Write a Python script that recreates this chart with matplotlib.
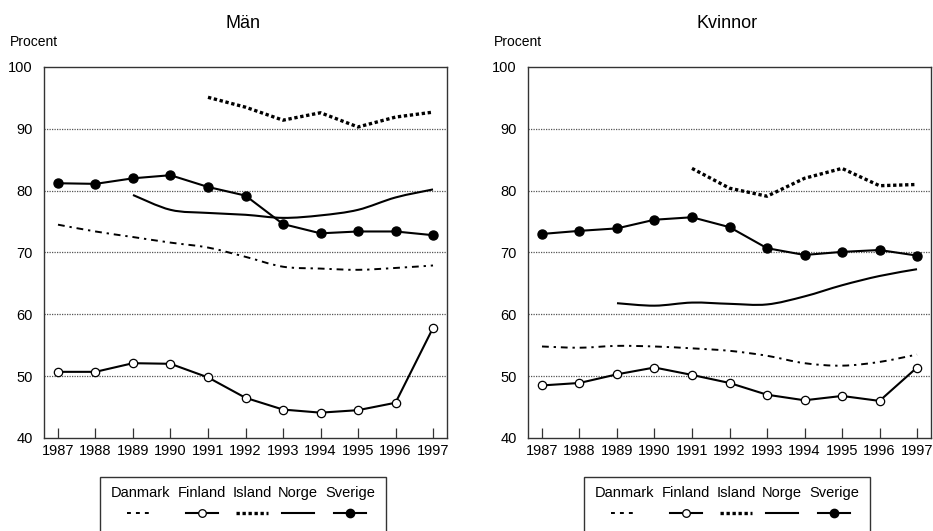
import matplotlib
matplotlib.use("Agg")
import matplotlib.pyplot as plt
from matplotlib.path import Path
from matplotlib.patches import PathPatch, Rectangle
from matplotlib.lines import Line2D
import numpy as np

plt.rcParams['font.family'] = ['Liberation Sans', 'DejaVu Sans']

years = list(range(1987, 1998))
countries = ["Danmark", "Finland", "Island", "Norge", "Sverige"]

# Män
man_danmark = [74.5, 73.4, 72.5, 71.6, 70.8, 69.3, 67.7, 67.4, 67.2, 67.5, 67.9]
man_finland = [50.7, 50.7, 52.1, 52.0, 49.8, 46.5, 44.6, 44.1, 44.5, 45.7, 57.8]
man_island = [None, None, None, None, 95.1, 93.5, 91.4, 92.6, 90.3, 91.9, 92.7]
man_norge = [None, None, 79.3, 76.9, 76.4, 76.1, 75.6, 76.0, 76.9, 78.9, 80.2]
man_sverige = [81.2, 81.1, 82.0, 82.5, 80.6, 79.2, 74.6, 73.1, 73.4, 73.4, 72.8]

# Kvinnor
kv_danmark = [54.8, 54.6, 54.9, 54.8, 54.5, 54.1, 53.3, 52.1, 51.7, 52.3, 53.5]
kv_finland = [48.5, 48.9, 50.3, 51.4, 50.2, 48.9, 47.0, 46.1, 46.8, 46.0, 51.4]
kv_island = [None, None, None, None, 83.6, 80.4, 79.1, 82.0, 83.6, 80.8, 81.0]
kv_norge = [None, None, 61.8, 61.4, 61.9, 61.7, 61.6, 62.9, 64.7, 66.2, 67.3]
kv_sverige = [73.0, 73.5, 73.9, 75.3, 75.7, 74.1, 70.7, 69.6, 70.1, 70.4, 69.5]

titles = ["Män", "Kvinnor"]
ylabel = "Procent"

W, H = 933, 531
fig = plt.figure(figsize=(W / 100, H / 100), dpi=100)


def fx(px):
    return px / W


def fy(py):
    return 1 - py / H


def valid(xs, ys):
    pts = [(x, y) for x, y in zip(xs, ys) if y is not None]
    return [p[0] for p in pts], [p[1] for p in pts]


def smooth_path(xs, ys):
    n = len(xs)
    verts = [(xs[0], ys[0])]
    codes = [Path.MOVETO]
    for i in range(n - 1):
        p0 = np.array([xs[max(i - 1, 0)], ys[max(i - 1, 0)]])
        p1 = np.array([xs[i], ys[i]])
        p2 = np.array([xs[i + 1], ys[i + 1]])
        p3 = np.array([xs[min(i + 2, n - 1)], ys[min(i + 2, n - 1)]])
        c1 = p1 + (p2 - p0) / 6.0
        c2 = p2 - (p3 - p1) / 6.0
        verts += [tuple(c1), tuple(c2), tuple(p2)]
        codes += [Path.CURVE4] * 3
    return Path(verts, codes)


styles = {
    "Danmark": dict(color="black", lw=1.4, ls=(0, (3.5, 2.5, 1.2, 2.5))),
    "Finland": dict(color="black", lw=1.5, ls="-", marker="o", ms=6,
                    mfc="white", mec="black", mew=0.9),
    "Island": dict(color="black", lw=2.4, ls=(0, (1.0, 0.8))),
    "Norge": dict(color="black", lw=1.5, ls="-"),
    "Sverige": dict(color="black", lw=1.5, ls="-", marker="o", ms=6.5,
                    mfc="black", mec="black"),
}

panels = [
    (44, 447, [man_danmark, man_finland, man_island, man_norge, man_sverige]),
    (528, 931, [kv_danmark, kv_finland, kv_island, kv_norge, kv_sverige]),
]

for pi, (xl, xr, series) in enumerate(panels):
    ax = fig.add_axes([fx(xl), fy(438), fx(xr - xl), (438 - 67) / H])
    ax.set_xlim(1986.627, 1997.373)
    ax.set_ylim(40, 100)
    ax.set_yticks([40, 50, 60, 70, 80, 90, 100])
    ax.set_xticks(years)
    ax.set_xticklabels([str(y) for y in years], fontsize=10.5)
    ax.tick_params(axis="x", direction="in", length=7, width=0.9, pad=4,
                   color="#333333")
    ax.tick_params(axis="y", length=0, pad=8, labelsize=10.5)
    for y in [50, 60, 70, 80, 90]:
        ax.axhline(y, color="#555555", lw=0.9, ls=(0, (1, 1)), zorder=0)
    for s in ax.spines.values():
        s.set_color("#333333")
        s.set_linewidth(1.0)
    for name, vals in zip(countries, series):
        xs, ys = valid(years, vals)
        st = styles[name]
        if name in ("Danmark", "Norge"):
            patch = PathPatch(smooth_path(xs, ys), fill=False, edgecolor=st["color"],
                              lw=st["lw"], ls=st["ls"], zorder=3)
            ax.add_patch(patch)
        else:
            ax.plot(xs, ys, color=st["color"], lw=st["lw"], ls=st["ls"],
                    marker=st.get("marker"), ms=st.get("ms", 0),
                    mfc=st.get("mfc"), mec=st.get("mec"), mew=st.get("mew", 1.0),
                    zorder=4, clip_on=False)
    # titles and y label
    cx = (xl + xr) / 2 - 2
    fig.text(fx(cx), fy(24), titles[pi], ha="center", va="center", fontsize=13)
    fig.text(fx(xl - 34), fy(42), ylabel, ha="left", va="center", fontsize=10)

    # legend (custom layout: labels above handles)
    lx0 = xl + 56
    rect = Rectangle((fx(lx0), fy(545)), fx(286), (545 - 477) / H,
                     transform=fig.transFigure, fill=False, edgecolor="#333333",
                     lw=1.0, clip_on=False)
    fig.add_artist(rect)
    label_cx = [40.3, 101.7, 152.3, 198.0, 250.3]
    for name, c in zip(countries, label_cx):
        fig.text(fx(lx0 + c), fy(493), name, ha="center", va="center", fontsize=10.5)
        st = styles[name]
        hx = [fx(lx0 + c - 16), fx(lx0 + c + 16)]
        if name == "Danmark":
            hx = [fx(lx0 + c - 13), fx(lx0 + c + 13)]
        hls = (0, (2.0, 2.6)) if name == "Danmark" else st["ls"]
        line = Line2D(hx, [fy(513), fy(513)], transform=fig.transFigure,
                      color=st["color"], lw=st["lw"], ls=hls)
        fig.add_artist(line)
        if "marker" in st:
            mk = Line2D([fx(lx0 + c)], [fy(513)], transform=fig.transFigure,
                        marker="o", ms=st["ms"] - 0.5, mfc=st["mfc"], mec=st["mec"],
                        mew=st.get("mew", 1.0), ls="none")
            fig.add_artist(mk)

fig.savefig("out.png", dpi=100)
